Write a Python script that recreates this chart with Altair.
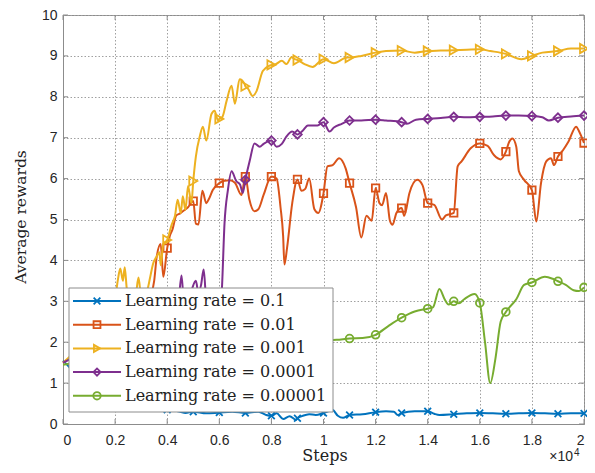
import altair as alt
import pandas as pd

labels = ["Learning rate = 0.1", "Learning rate = 0.01", "Learning rate = 0.001",
          "Learning rate = 0.0001", "Learning rate = 0.00001"]
colors = ["#0072BD", "#D95319", "#EDB120", "#7E2F8E", "#77AC30"]
shapes = ["M-1,-1L1,1M-1,1L1,-1", "square", "triangle-right", "diamond", "circle"]
marker_sizes = [45, 55, 85, 75, 60]

x_ticks = [0, 2000, 4000, 6000, 8000, 10000, 12000, 14000, 16000, 18000, 20000]
y_ticks = [0, 1, 2, 3, 4, 5, 6, 7, 8, 9, 10]
x_title = "Steps"
y_title = "Average rewards"

# LR = 0.1
blue_steps = [0, 300, 600, 1000, 1500, 2000, 2500, 3000, 3500, 4000, 4500, 4700, 5000, 5500,
              6000, 6500, 7000, 7500, 7800, 8000, 8200, 8450, 8700, 8950, 9000, 9200, 9450,
              9700, 10000, 10350, 10550, 10750, 11000, 11500, 12000, 12400, 12700, 12850,
              13000, 13500, 14000, 14250, 14450, 15000, 15500, 16000, 16500, 17000, 17500,
              18000, 18500, 19000, 19500, 20000]
blue_vals = [1.55, 1.35, 1.1, 0.9, 0.75, 0.62, 0.52, 0.45, 0.4, 0.35, 0.3, 0.27, 0.3, 0.26,
             0.28, 0.3, 0.27, 0.3, 0.22, 0.2, 0.26, 0.12, 0.19, 0.1, 0.14, 0.2, 0.24,
             0.22, 0.27, 0.34, 0.2, 0.15, 0.22, 0.24, 0.29, 0.31, 0.3, 0.22,
             0.27, 0.31, 0.31, 0.25, 0.22, 0.24, 0.26, 0.27, 0.26, 0.25, 0.26,
             0.27, 0.26, 0.25, 0.26, 0.26]

# LR = 0.01
orange_steps = [0, 500, 1000, 1500, 2000, 2500, 3000, 3200, 3400, 3500, 3600, 3750, 3850,
                4000, 4100, 4200, 4350, 4500, 4600, 4800, 5000, 5100, 5200, 5350, 5500, 5600,
                5750, 6000, 6200, 6400, 6600, 6850, 7000, 7150, 7350, 7500, 7700, 8000, 8200,
                8350, 8450, 8500, 8600, 8800, 9000, 9150, 9300, 9450, 9650, 9800, 10000,
                10150, 10350, 10600, 10850, 11000, 11250, 11450, 11650, 11850, 12000, 12150,
                12250, 12400, 12550, 12650, 12800, 13000, 13100, 13300, 13600, 13800, 14000,
                14250, 14550, 14700, 15000, 15150, 15300, 15650, 16000, 16300, 16550, 16800,
                17000, 17130, 17250, 17400, 17500, 17700, 18000, 18170, 18350, 18550, 18730,
                18850, 19000, 19200, 19400, 19700, 19800, 20000]
orange_vals = [1.5, 1.7, 1.9, 2.1, 2.4, 2.6, 2.8, 3.0, 3.2, 3.5, 4.1, 4.4, 3.6,
               4.3, 4.6, 4.75, 5.1, 5.15, 5.2, 5.3, 5.45, 4.9, 4.88, 5.7, 5.4, 5.5,
               5.72, 5.89, 5.95, 5.96, 5.9, 5.6, 6.05, 5.5, 5.2, 5.25, 5.6, 6.05, 6.0,
               5.3, 4.6, 3.9, 4.3, 5.4, 5.98, 5.7, 5.75, 6.0, 5.25, 5.16, 5.64,
               6.3, 6.33, 6.5, 6.25, 5.89, 5.3, 4.56, 5.09, 4.97, 5.77, 5.4,
               5.35, 5.65, 4.97, 4.87, 5.16, 5.28, 5.09, 5.65, 5.97, 5.84, 5.4,
               5.36, 5.0, 5.1, 5.16, 6.3, 6.42, 6.74, 6.86, 6.8, 6.57, 6.47,
               6.66, 6.9, 6.98, 6.78, 6.18, 5.97, 5.72, 4.95, 5.89, 6.42, 6.5,
               6.33, 6.54, 6.7, 6.9, 7.27, 7.17, 6.87]

# LR = 0.001
yellow_steps = [0, 500, 1000, 1500, 1800, 1900, 2000, 2100, 2200, 2300, 2370, 2450, 2600,
                2800, 2900, 3000, 3200, 3350, 3450, 3600, 3700, 3750, 3850, 4000, 4170, 4300,
                4400, 4520, 4600, 4700, 4800, 4930, 5000, 5100, 5250, 5370, 5500, 5700, 5820,
                5950, 6000, 6120, 6280, 6470, 6600, 6780, 6970, 7000, 7100, 7280, 7430, 7670,
                7930, 8000, 8100, 8400, 8580, 8770, 8900, 9000, 9270, 9580, 10000, 10400,
                10900, 11000, 11450, 12000, 12400, 13000, 13500, 14000, 14500, 15000, 15500,
                16000, 16400, 17000, 17600, 18000, 18400, 19000, 19500, 20000]
yellow_vals = [1.5, 1.8, 2.2, 2.6, 3.0, 3.3, 3.1, 3.5, 3.8, 3.5, 3.83, 3.3, 3.0,
               3.2, 3.58, 3.1, 3.2, 3.6, 3.9, 4.1, 4.2, 3.88, 4.4, 4.5, 4.87, 5.09,
               5.48, 5.16, 5.57, 5.23, 5.82, 5.4, 5.94, 6.54, 7.03, 7.27, 6.93, 7.58, 7.66,
               7.42, 7.46, 7.51, 7.9, 8.27, 7.83, 8.43, 8.31, 8.26, 8.2, 8.02, 8.14, 8.63,
               8.76, 8.78, 8.78, 8.88, 8.8, 8.97, 8.92, 8.9, 8.8, 8.73, 8.92, 8.82,
               8.96, 8.96, 9.0, 9.08, 9.12, 9.13, 9.08, 9.12, 9.13, 9.14, 9.15,
               9.16, 9.12, 9.05, 8.92, 9.0, 9.08, 9.12, 9.18, 9.18]

# LR = 0.0001
purple_steps = [0, 1000, 2000, 3000, 4000, 4400, 4550, 4650, 4800, 4950, 5100, 5200, 5300,
                5400, 5500, 5700, 5850, 6000, 6100, 6200, 6330, 6470, 6650, 6800, 6900, 7000,
                7170, 7350, 7550, 7700, 8000, 8200, 8400, 8580, 8800, 9000, 9200, 9400, 9770,
                10000, 10230, 10400, 10700, 11000, 11450, 12000, 12400, 13000, 13200, 13550,
                14000, 14500, 15000, 15500, 16000, 16500, 17000, 17500, 18000, 18400, 18650,
                19000, 19500, 20000]
purple_vals = [1.5, 1.8, 2.1, 2.4, 2.6, 2.8, 3.63, 2.9, 3.0, 3.3, 3.5, 3.2, 3.4,
               3.78, 3.0, 2.6, 2.2, 2.5, 3.3, 4.9, 5.72, 6.18, 5.94, 5.85, 5.65, 5.97,
               6.44, 6.86, 6.78, 6.85, 6.93, 6.78, 6.85, 7.03, 7.15, 7.08, 7.17, 7.3, 7.3,
               7.38, 7.15, 7.25, 7.34, 7.42, 7.42, 7.44, 7.42, 7.38, 7.34, 7.44,
               7.46, 7.48, 7.51, 7.5, 7.51, 7.52, 7.54, 7.54, 7.53, 7.5, 7.42,
               7.49, 7.52, 7.54]

# LR = 0.00001
green_steps = [0, 1000, 2000, 3000, 4000, 5000, 6000, 7000, 8000, 9000, 10000, 10500, 11000,
               11500, 12000, 12500, 13000, 13500, 14000, 14200, 14450, 14650, 14800, 15000,
               15200, 15400, 15800, 16000, 16200, 16400, 16600, 16800, 17000, 17400, 17700,
               18000, 18500, 18800, 19000, 19300, 19600, 19800, 20000]
green_vals = [1.45, 1.55, 1.65, 1.75, 1.85, 1.9, 1.95, 2.0, 2.0, 2.02, 2.05, 2.06, 2.09,
              2.1, 2.18, 2.4, 2.6, 2.75, 2.82, 2.85, 3.3, 3.05, 2.92, 3.0,
              2.95, 3.05, 3.18, 2.96, 2.0, 1.0, 1.6, 2.5, 2.74, 3.05, 3.4,
              3.46, 3.6, 3.55, 3.49, 3.4, 3.27, 3.25, 3.34]

series = [(blue_steps, blue_vals), (orange_steps, orange_vals), (yellow_steps, yellow_vals),
          (purple_steps, purple_vals), (green_steps, green_vals)]

W, H = 521, 409
SERIF = "DejaVu Serif"
SANS = "Liberation Sans"
FRAME = "#8c8c8c"

X = alt.X("step:Q", scale=alt.Scale(domain=[0, 20000], nice=False, zero=False),
          axis=alt.Axis(values=x_ticks, labelExpr="'' + datum.value / 10000", title=None,
                        labelPadding=9))
Y = alt.Y("reward:Q", scale=alt.Scale(domain=[0, 10], nice=False, zero=False),
          axis=alt.Axis(values=y_ticks, title=None, labelPadding=6))

layers = []

# inward tick marks on all four sides of the box
xt_df = pd.DataFrame({"step": x_ticks})
yt_df = pd.DataFrame({"reward": y_ticks})
layers.append(alt.Chart(xt_df).mark_rule(color=FRAME, strokeWidth=1).encode(
    x=X, y=alt.value(H), y2=alt.value(H - 5)))
layers.append(alt.Chart(xt_df).mark_rule(color=FRAME, strokeWidth=1).encode(
    x=X, y=alt.value(0), y2=alt.value(5)))
layers.append(alt.Chart(yt_df).mark_rule(color=FRAME, strokeWidth=1).encode(
    y=Y, x=alt.value(0), x2=alt.value(5)))
layers.append(alt.Chart(yt_df).mark_rule(color=FRAME, strokeWidth=1).encode(
    y=Y, x=alt.value(W), x2=alt.value(W - 5)))

for i, (steps, vals) in enumerate(series):
    df = pd.DataFrame({"step": steps, "reward": vals})
    base = alt.Chart(df)
    layers.append(base.mark_line(color=colors[i], strokeWidth=2, interpolate="monotone")
                  .encode(x=X, y=Y))
    layers.append(base.transform_filter("datum.step > 0 && datum.step % 1000 == 0")
                  .mark_point(shape=shapes[i], size=marker_sizes[i], filled=False,
                              color=colors[i], strokeWidth=1.8, opacity=1)
                  .encode(x=X, y=Y))

one = pd.DataFrame({"a": [0]})

# legend (drawn inside the plot, lower left)
leg_df = pd.DataFrame({"label": labels, "idx": [0, 1, 2, 3, 4]})
leg_base = alt.Chart(leg_df).transform_calculate(ly="286 + datum.idx * 23.7")
leg_color = alt.Color("label:N", scale=alt.Scale(domain=labels, range=colors), legend=None)
leg_box = alt.Chart(one).mark_rect(fill="white", stroke=FRAME, strokeWidth=1).encode(
    x=alt.value(6), x2=alt.value(270), y=alt.value(273), y2=alt.value(397))
leg_lines = leg_base.mark_rule(strokeWidth=2).encode(
    x=alt.value(10), x2=alt.value(58), y=alt.Y("ly:Q", scale=None, axis=None), color=leg_color)
leg_pts = leg_base.mark_point(filled=False, strokeWidth=1.8, opacity=1).encode(
    x=alt.value(34), y=alt.Y("ly:Q", scale=None, axis=None), color=leg_color,
    shape=alt.Shape("label:N", scale=alt.Scale(domain=labels, range=shapes), legend=None),
    size=alt.Size("label:O", scale=alt.Scale(domain=labels, range=marker_sizes), legend=None))
leg_text = leg_base.mark_text(align="left", baseline="middle", font=SERIF, fontSize=16,
                              color="#222222").encode(
    x=alt.value(62), y=alt.Y("ly:Q", scale=None, axis=None), text="label:N")

# axis titles and the x10^4 multiplier
xt = alt.Chart(one).mark_text(text=x_title, align="center", baseline="alphabetic",
                              font=SERIF, fontSize=16, color="#222222").encode(
    x=alt.value(262), y=alt.value(446))
yt = alt.Chart(one).mark_text(text=y_title, align="center", baseline="alphabetic",
                              angle=270, font=SERIF, fontSize=15.5, color="#222222").encode(
    x=alt.value(-37), y=alt.value(202))
exp_a = alt.Chart(one).mark_text(
    text="×10", align="right", baseline="alphabetic", font=SANS, fontSize=14,
    color="#262626").encode(x=alt.value(510), y=alt.value(446))
exp_b = alt.Chart(one).mark_text(
    text="4", align="left", baseline="alphabetic", font=SANS, fontSize=10,
    color="#262626").encode(x=alt.value(511), y=alt.value(441))

chart = alt.layer(*layers, leg_box, leg_lines, leg_pts, leg_text, xt, yt, exp_a, exp_b
                  ).properties(
    width=W, height=H,
    autosize=alt.AutoSizeParams(type="none"),
    padding={"left": 55, "top": 7, "right": 3, "bottom": 41},
    background="white",
).configure_axis(
    labelFont=SANS, labelFontSize=14, labelColor="#262626",
    grid=True, gridColor="#a0a0a0", gridDash=[1.5, 2], gridWidth=1, gridOpacity=1,
    domainColor=FRAME, domainWidth=1, ticks=False,
).configure_view(stroke=FRAME, strokeWidth=1)

chart.save("out.html", embed_options={"renderer": "svg", "actions": False})
